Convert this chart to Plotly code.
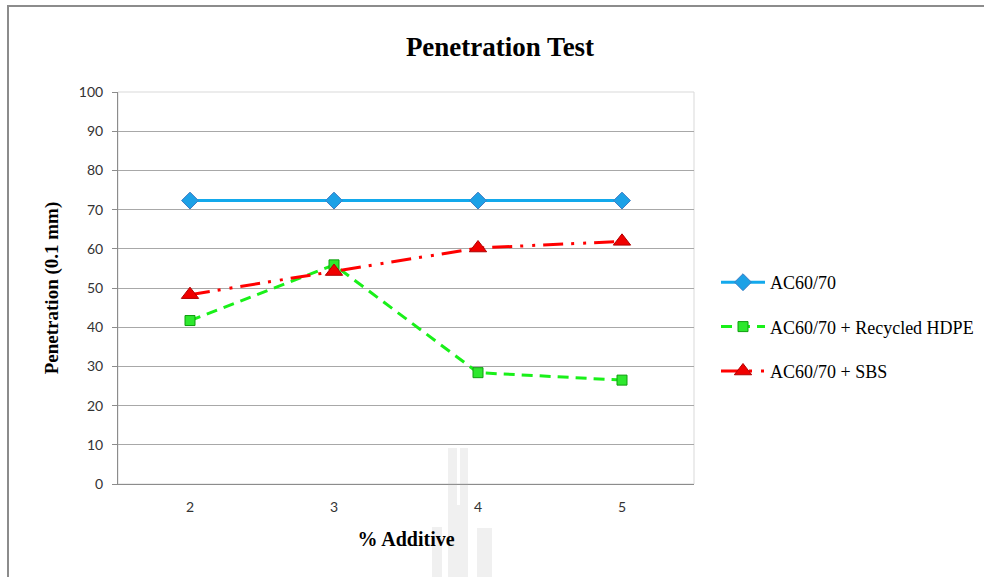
import plotly.graph_objects as go

# Penetration test results for different binder blends
additive_pct = [2, 3, 4, 5]
ac6070 = [72.3, 72.3, 72.3, 72.3]
ac6070_hdpe = [41.7, 55.9, 28.4, 26.5]
ac6070_sbs = [48.3, 54.2, 60.2, 61.9]

series_names = ["AC60/70", "AC60/70 + Recycled HDPE", "AC60/70 + SBS"]
y_ticks = list(range(0, 101, 10))

W, H = 984, 577
L, R, T, B = 118, 694, 92, 484  # plot area in pixels


def px_x(x):
    return (x - L) / (R - L)


def px_y(y):
    return (B - y) / (B - T)


fig = go.Figure()

fig.add_trace(go.Scatter(
    x=additive_pct, y=ac6070, name=series_names[0], mode="lines+markers",
    legendgroup="a",
    line=dict(color="#13A9EC", width=3),
    marker=dict(symbol="diamond", size=13, color="#1DA1E6",
                line=dict(color="#3D7DC4", width=1)),
))
fig.add_trace(go.Scatter(
    x=additive_pct, y=ac6070_hdpe, name=series_names[1], mode="lines+markers",
    legendgroup="b",
    line=dict(color="#19F019", width=3, dash="11px,7px"),
    marker=dict(symbol="square", size=10, color="#2EE82E",
                line=dict(color="#0E9E0E", width=1)),
))
fig.add_trace(go.Scatter(
    x=additive_pct, y=ac6070_sbs, name=series_names[2], mode="lines+markers",
    legendgroup="c",
    line=dict(color="#FF0000", width=3, dash="20px,8px,3px,9px,3px,8px"),
    marker=dict(symbol="triangle-up", size=15, color="#F00000",
                line=dict(color="#B00000", width=1)),
))

shapes = []
# plot area border
shapes.append(dict(type="rect", xref="paper", yref="paper", x0=0, x1=1, y0=0, y1=1,
                   line=dict(color="#D9D9D9", width=1), layer="below"))
# outer chart frame
shapes.append(dict(type="rect", xref="paper", yref="paper",
                   x0=px_x(8), x1=px_x(W + 10), y0=px_y(W), y1=px_y(6),
                   line=dict(color="#8C8C8C", width=2), layer="below"))
# faint emblem near the bottom
emblem = [
    (448, 457, 448, 590), (460, 468, 448, 590), (457, 460, 505, 590),
    (432, 442, 527, 590), (477, 492, 528, 590),
]
for x0, x1, y0, y1 in emblem:
    shapes.append(dict(type="rect", xref="paper", yref="paper",
                       x0=px_x(x0), x1=px_x(x1), y0=px_y(y1), y1=px_y(y0),
                       fillcolor="rgba(170,170,170,0.18)", line=dict(width=0),
                       layer="above"))

fig.update_layout(
    width=W, height=H,
    margin=dict(l=L, r=W - R, t=T, b=H - B, pad=0, autoexpand=False),
    paper_bgcolor="white", plot_bgcolor="white",
    title=dict(text="<b>Penetration Test</b>", x=px_x(500), xanchor="center",
               xref="paper", y=1 - 47 / H, yanchor="middle",
               font=dict(family="Liberation Serif", size=27, color="black")),
    xaxis=dict(
        range=[1.5, 5.5], tickvals=additive_pct, ticktext=[str(v) for v in additive_pct],
        showgrid=False, zeroline=False, showline=True, linecolor="#8C8C8C", linewidth=1,
        ticks="", ticklabelstandoff=10, tickfont=dict(family="Lato", size=14, color="#333"),
        title=dict(text="<b>% Additive</b>", standoff=18,
                   font=dict(family="Liberation Serif", size=20, color="black")),
    ),
    yaxis=dict(
        range=[0, 100], tickvals=y_ticks, showgrid=True, gridcolor="#A8A8A8", gridwidth=1,
        zeroline=False, showline=True, linecolor="#8C8C8C", linewidth=1,
        ticks="outside", ticklen=5, tickcolor="#8C8C8C", ticklabelstandoff=6,
        tickfont=dict(family="Lato", size=14, color="#333"),
        title=dict(text="<b>Penetration (0.1 mm)</b>", standoff=15,
                   font=dict(family="Liberation Serif", size=19, color="black")),
    ),
    legend=dict(x=px_x(716), y=px_y(264), xanchor="left", yanchor="top",
                font=dict(family="Liberation Serif", size=18, color="black"),
                itemwidth=44, tracegroupgap=18, bgcolor="rgba(0,0,0,0)"),
    shapes=shapes,
    showlegend=True,
)

fig.write_html("out.html")
